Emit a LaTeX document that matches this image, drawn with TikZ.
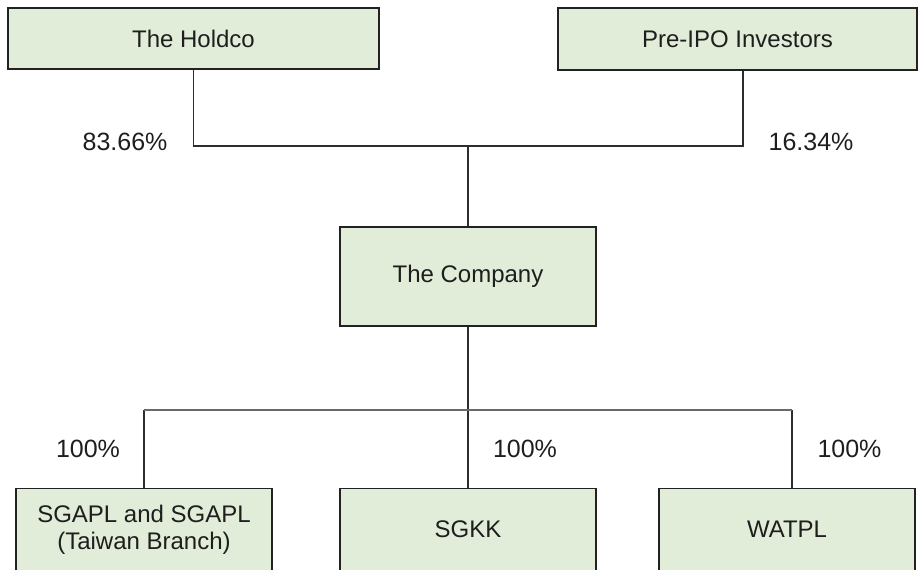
\documentclass[tikz,border=0pt]{standalone}
\usepackage{fontspec}
\setmainfont{Liberation Sans}
\usetikzlibrary{calc}
\definecolor{boxfill}{RGB}{225,237,216}
\definecolor{boxedge}{RGB}{34,34,34}
\definecolor{wire}{RGB}{45,45,45}
\definecolor{bar}{RGB}{105,105,105}
\definecolor{ink}{RGB}{30,30,30}
\tikzset{
  entity/.style={draw=boxedge, fill=boxfill, line width=1.3pt, inner sep=0pt,
    text=ink, font=\fontsize{24}{28}\selectfont, align=center},
  boxtext/.style={text=ink, font=\fontsize{24}{28}\selectfont, align=center, inner sep=0pt, anchor=base},
  share/.style={text=ink, font=\fontsize{25}{28}\selectfont, inner sep=0pt, anchor=base},
  wire/.style={draw=wire, line width=1.1pt},
  bus/.style={draw=bar, line width=2pt}
}
\begin{document}
\begin{tikzpicture}[x=1pt, y=-1pt]
\useasboundingbox (0,0) rectangle (918,570);

% shareholders
\node[entity, minimum width=371pt, minimum height=61pt] (holdco) at (193.5,38.5) {The Holdco};
\node[entity, minimum width=359pt, minimum height=62pt] (preipo) at (737.5,39) {Pre-IPO Investors};

% the listed company
\node[entity, minimum width=256pt, minimum height=99pt] (company) at (468,276.5) {The Company};

% subsidiaries (boxes run past the lower edge)
\node[entity, minimum width=256pt, minimum height=110pt, anchor=north] (sgapl) at (144,488) {};
\node[entity, minimum width=256pt, minimum height=110pt, anchor=north] (sgkk) at (468,488) {};
\node[entity, minimum width=256pt, minimum height=110pt, anchor=north] (watpl) at (787,488) {};
\node[boxtext] (sgapl-l1) at (144,522) {SGAPL and SGAPL};
\node[boxtext] (sgapl-l2) at (144,549.5) {(Taiwan Branch)};
\node[boxtext] (sgkk-t) at (468,537) {SGKK};
\node[boxtext] (watpl-t) at (787,537) {WATPL};

% junction points
\coordinate (top-join) at (468,146);
\coordinate (pre-foot) at ($(preipo.south)+(5.5,0)$);
\coordinate (bot-join) at (468,410);
\coordinate (watpl-head) at ($(watpl.north)+(5,0)$);

% upper ownership lines
\draw[wire] (holdco.south) |- (top-join) -| (pre-foot);
\draw[wire] (top-join) -- (company.north);

% lower ownership lines
\draw[wire] (company.south) -- (bot-join);
\draw[wire] (sgapl.north |- bot-join) -- (sgapl.north);
\draw[wire] (bot-join) -- (sgkk.north);
\draw[wire] (watpl-head |- bot-join) -- (watpl-head);
\draw[bus] (sgapl.north |- bot-join) -- (watpl-head |- bot-join);

% percentages
\node[share] (p-holdco) at (125,150) {83.66\%};
\node[share] (p-preipo) at (811,150) {16.34\%};
\node[share] (p-sgapl) at (88,457) {100\%};
\node[share] (p-sgkk) at (525,457) {100\%};
\node[share] (p-watpl) at (849.5,457) {100\%};
\end{tikzpicture}
\end{document}
